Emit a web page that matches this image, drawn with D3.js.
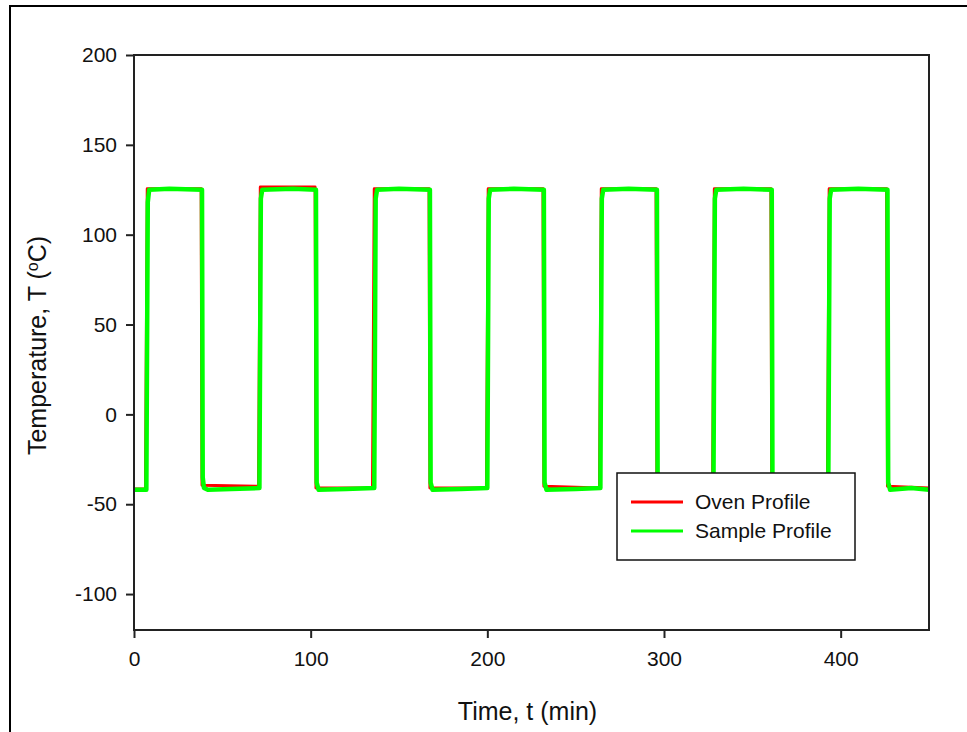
<!DOCTYPE html>
<html>
<head>
<meta charset="utf-8">
<script src="https://cdn.jsdelivr.net/npm/d3@7"></script>
<style>
  body { margin: 0; background: #fff; }
  text { font-family: "Liberation Sans", Arial, sans-serif; }
</style>
</head>
<body>
<svg id="chart"></svg>
<script>
// Oven profile (time in min, temperature in C)
var ovenTime = [0, 6.5, 7.5, 38, 38.5, 70.5, 71.5, 102.5, 103, 135, 136, 167, 167.5, 199.5, 200.5,
  231.5, 232, 263.5, 264.5, 295.5, 296, 327.5, 328.5, 360.5, 361, 392.5, 393.5, 426, 426.5, 450];
var ovenTemp = [-41.5, -41.5, 125.5, 125.5, -39.5, -40, 126.5, 126.5, -41, -41, 125.5, 125.5, -41, -41, 125.5,
  125.5, -40, -41, 125.5, 125.5, -41, -41, 125.5, 125.5, -41, -41, 125.5, 125.5, -40, -41];

// Sample profile
var sampleTime = [0, 7, 7.8, 8.6, 20, 38.5, 38.9, 39.6, 42, 55, 71, 71.8, 72.6, 90, 103, 103.4, 104.5, 120, 136, 136.8, 137.6, 150,
  167.5, 167.9, 169, 185, 200, 200.8, 201.6, 215, 232, 232.4, 233.5, 250, 264, 264.8, 265.6, 280, 296, 296.4, 297.5, 328,
  328.8, 329.6, 345, 361, 361.4, 362.5, 393, 393.8, 394.6, 410, 426.5, 426.9, 428, 440, 450];
var sampleTemp = [-42, -42, 118, 125, 125.5, 125, -35, -41, -42, -41.5, -41, 120, 125, 125.5, 125, -38, -42, -41.5, -41, 120, 125, 125.5,
  125, -38, -42, -41.5, -41, 120, 125, 125.5, 125, -38, -42, -41.5, -41, 120, 125, 125.5, 125, -38, -42, -41,
  120, 125, 125.5, 125, -38, -42, -41, 120, 125, 125.5, 125, -38, -42, -41, -42];

var xTicks = [0, 100, 200, 300, 400];
var yTicks = [-100, -50, 0, 50, 100, 150, 200];

var width = 967, height = 732;
var margin = {top: 55, right: 38, bottom: 102, left: 134};
var w = width - margin.left - margin.right,
    h = height - margin.top - margin.bottom;

var svg = d3.select("#chart").attr("width", width).attr("height", height);

// outer frame
svg.append("rect")
    .attr("x", 10).attr("y", 6)
    .attr("width", 980).attr("height", 760)
    .attr("fill", "none").attr("stroke", "#000").attr("stroke-width", 2);

var g = svg.append("g")
    .attr("transform", "translate(" + margin.left + "," + margin.top + ")");

var x = d3.scaleLinear().domain([0, 450]).range([0, w]);
var y = d3.scaleLinear().domain([-120, 200]).range([h, 0]);

g.append("clipPath").attr("id", "clip")
  .append("rect").attr("width", w).attr("height", h);

var line = d3.line()
    .x(function(d) { return x(d[0]); })
    .y(function(d) { return y(d[1]); });

var oven = ovenTime.map(function(t, i) { return [t, ovenTemp[i]]; });
var sample = sampleTime.map(function(t, i) { return [t, sampleTemp[i]]; });

g.append("path").datum(oven)
    .attr("clip-path", "url(#clip)")
    .attr("fill", "none").attr("stroke", "#ff0000").attr("stroke-width", 3)
    .attr("stroke-linejoin", "round")
    .attr("d", line);

g.append("path").datum(sample)
    .attr("clip-path", "url(#clip)")
    .attr("fill", "none").attr("stroke", "#00ff00").attr("stroke-width", 4.5)
    .attr("stroke-linejoin", "round")
    .attr("d", line);

// frame of plot
g.append("rect").attr("width", w).attr("height", h)
    .attr("fill", "none").attr("stroke", "#222").attr("stroke-width", 2);

var fmt = function(d) { return String(d); };
var xAxis = d3.axisBottom(x).tickValues(xTicks).tickSize(8).tickPadding(10).tickFormat(fmt);
var yAxis = d3.axisLeft(y).tickValues(yTicks).tickSize(8).tickPadding(9).tickFormat(fmt);

var gx = g.append("g").attr("transform", "translate(0," + h + ")").call(xAxis);
var gy = g.append("g").call(yAxis);

[gx, gy].forEach(function(a) {
  a.select(".domain").remove();
  a.selectAll("line").attr("stroke", "#222").attr("stroke-width", 2);
  a.selectAll("text").attr("fill", "#111").style("font-size", "21px")
    .style("font-family", "Liberation Sans, Arial, sans-serif");
});
gx.selectAll("text").attr("dy", "0.85em");

// axis titles
svg.append("text")
    .attr("x", margin.left + w / 2 - 4).attr("y", 720)
    .attr("text-anchor", "middle")
    .style("font-size", "25px").attr("fill", "#111")
    .text("Time, t (min)");

var yt = svg.append("text")
    .attr("transform", "translate(46," + (margin.top + h / 2 + 3) + ") rotate(-90)")
    .attr("text-anchor", "middle")
    .style("font-size", "25px").attr("fill", "#111");
yt.append("tspan").text("Temperature, T (");
yt.append("tspan").text("o").attr("baseline-shift", "super").style("font-size", "16px");
yt.append("tspan").text("C)");

// legend
var lg = svg.append("g").attr("transform", "translate(617,473)");
lg.append("rect").attr("width", 238).attr("height", 87)
    .attr("fill", "#fff").attr("stroke", "#111").attr("stroke-width", 1.5);
var items = [["Oven Profile", "#ff0000"], ["Sample Profile", "#00ff00"]];
items.forEach(function(it, i) {
  var yy = 29 + i * 29;
  lg.append("line").attr("x1", 14).attr("x2", 66).attr("y1", yy).attr("y2", yy)
    .attr("stroke", it[1]).attr("stroke-width", 3);
  lg.append("text").attr("x", 78).attr("y", yy).attr("dy", "0.35em")
    .style("font-size", "21px").attr("fill", "#111").text(it[0]);
});
</script>
</body>
</html>
